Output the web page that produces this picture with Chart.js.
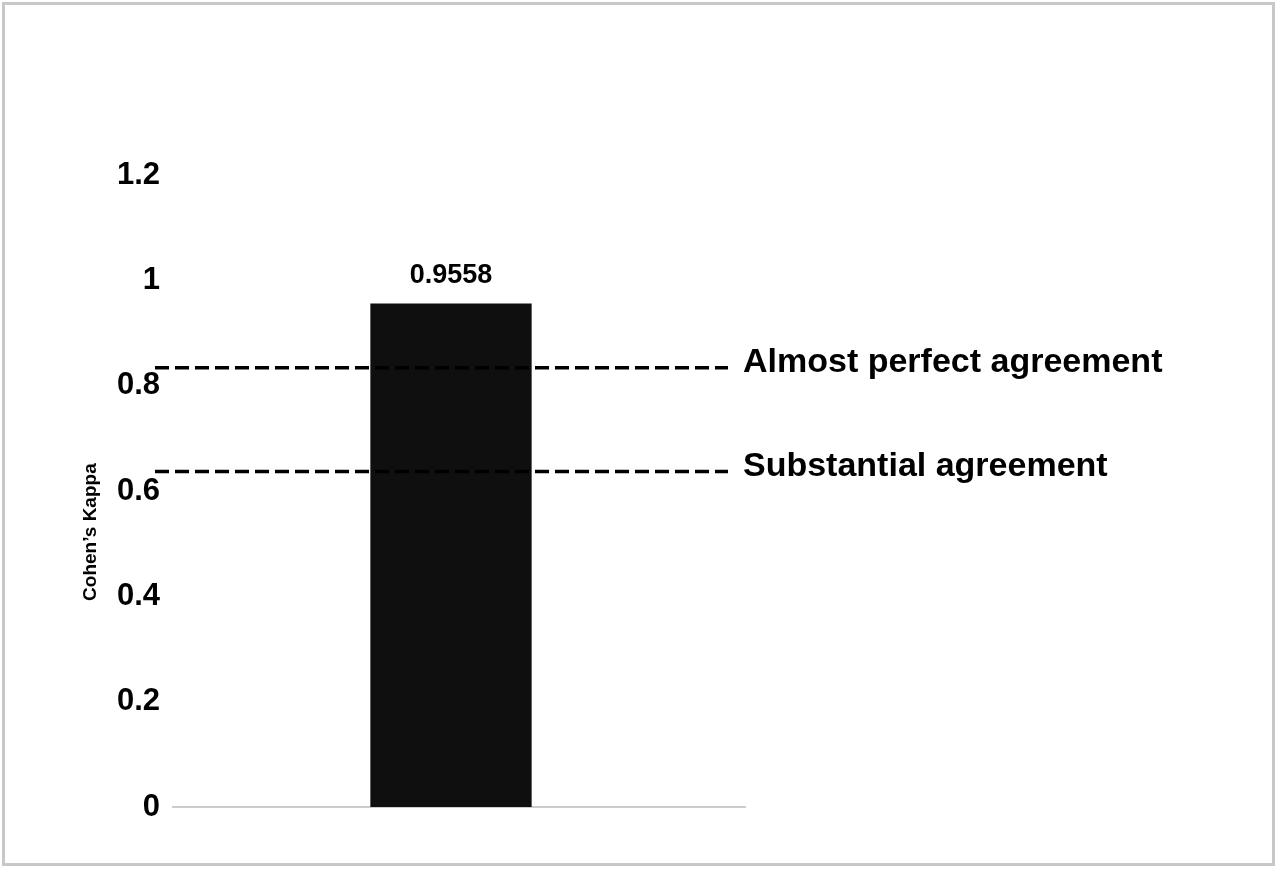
<!DOCTYPE html>
<html>
<head>
<meta charset="utf-8">
<script src="https://cdn.jsdelivr.net/npm/chart.js@4.4.1/dist/chart.umd.min.js"></script>
<style>
  body { margin: 0; background: #fff; }
  #wrap { width: 1280px; height: 871px; }
</style>
</head>
<body>
<div id="wrap"><canvas id="kappaChart" width="1280" height="871"></canvas></div>
<script>
const categories = ['Kappa'];
const kappaValues = [0.9558];
const thresholdValues = [0.834, 0.637];
const thresholdLabels = ['Almost perfect agreement', 'Substantial agreement'];
const yTitle = 'Cohen\u2019s Kappa';

const FONT = '"Liberation Sans", Arial, Helvetica, sans-serif';

// frame, baseline, dashed reference lines, their labels, value label and y title
const extrasPlugin = {
  id: 'extras',
  beforeDraw(chart) {
    const { ctx } = chart;
    ctx.save();
    ctx.strokeStyle = '#c8c8c8';
    ctx.lineWidth = 3;
    ctx.strokeRect(3.5, 3.5, 1270, 861);
    ctx.restore();
  },
  beforeDatasetsDraw(chart) {
    const { ctx, chartArea } = chart;
    const y = chart.scales.y.getPixelForValue(0);
    // the gray baseline sits a little right of the plot area in the original
    ctx.save();
    ctx.strokeStyle = '#cccccc';
    ctx.lineWidth = 2;
    ctx.beginPath();
    ctx.moveTo(chartArea.left + 8, y);
    ctx.lineTo(chartArea.right + 8, y);
    ctx.stroke();
    ctx.restore();
  },
  afterDatasetsDraw(chart) {
    const { ctx, chartArea } = chart;
    const yScale = chart.scales.y;
    ctx.save();

    // reference lines
    ctx.strokeStyle = '#000';
    ctx.lineWidth = 3.5;
    ctx.setLineDash([14, 6]);
    thresholdValues.forEach((v) => {
      const y = yScale.getPixelForValue(v);
      ctx.beginPath();
      ctx.moveTo(chartArea.left - 9, y);
      ctx.lineTo(chartArea.right - 10, y);
      ctx.stroke();
    });
    ctx.setLineDash([]);

    ctx.fillStyle = '#000';
    ctx.font = 'bold 34px ' + FONT;
    ctx.textAlign = 'left';
    ctx.textBaseline = 'middle';
    thresholdValues.forEach((v, i) => {
      const y = yScale.getPixelForValue(v);
      ctx.fillText(thresholdLabels[i], chartArea.right + 5, y - 5);
    });

    // value on top of the bar
    const meta = chart.getDatasetMeta(0);
    meta.data.forEach((bar, i) => {
      ctx.font = 'bold 27px ' + FONT;
      ctx.textAlign = 'center';
      ctx.textBaseline = 'bottom';
      ctx.fillText(kappaValues[i].toFixed(4), bar.x, bar.y - 15);
    });

    // y axis title, sits a bit below the middle of the axis
    const ty = chartArea.top + (chartArea.bottom - chartArea.top) * 0.565;
    ctx.translate(chartArea.left - 73, ty);
    ctx.rotate(-Math.PI / 2);
    ctx.font = 'bold 19px ' + FONT;
    ctx.textAlign = 'center';
    ctx.textBaseline = 'middle';
    ctx.fillText(yTitle, 0, 0);

    ctx.restore();
  },
};

const ctx = document.getElementById('kappaChart').getContext('2d');

new Chart(ctx, {
  type: 'bar',
  data: {
    labels: categories,
    datasets: [
      {
        label: yTitle,
        data: kappaValues,
        backgroundColor: '#0f0f0f',
        borderWidth: 0,
        categoryPercentage: 1,
        barPercentage: 0.281,
      },
    ],
  },
  options: {
    responsive: false,
    animation: false,
    layout: {
      padding: { top: 175, bottom: 64, left: 0, right: 542 },
    },
    plugins: {
      legend: { display: false },
      tooltip: { enabled: false },
    },
    scales: {
      x: {
        ticks: { display: false },
        grid: { display: false, drawTicks: false },
        border: { display: false },
        afterFit: (scale) => {
          scale.height = 0;
        },
      },
      y: {
        min: 0,
        max: 1.2,
        ticks: {
          stepSize: 0.2,
          padding: 4,
          color: '#000',
          font: { family: FONT, size: 31, weight: 'bold' },
          callback: (value) => String(Number(value.toFixed(2))),
        },
        grid: { display: false, drawTicks: false },
        border: { display: false },
        afterFit: (scale) => {
          scale.width = 164;
        },
      },
    },
  },
  plugins: [extrasPlugin],
});
</script>
</body>
</html>
